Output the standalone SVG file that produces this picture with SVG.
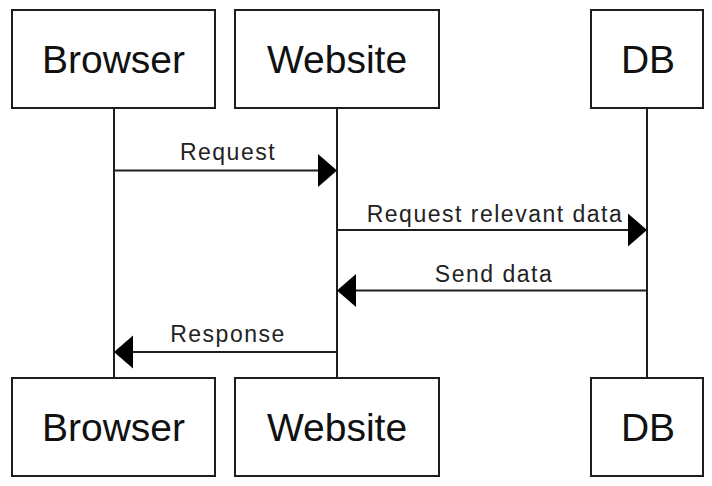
<svg xmlns="http://www.w3.org/2000/svg" width="712" height="486" viewBox="0 0 712 486">
<style>
.box{fill:#fff;stroke:#1e1e1e;stroke-width:2}
.big{font-family:"Liberation Sans",Arial,sans-serif;font-size:39px;fill:#111;text-anchor:middle}
.lbl{font-family:"Liberation Sans",Arial,sans-serif;font-size:23px;letter-spacing:1.5px;fill:#222;text-anchor:middle}
.life{stroke:#1e1e1e;stroke-width:2;fill:none}
.msg{stroke:#1e1e1e;stroke-width:2;fill:none}
.head{fill:#000;stroke:none}
</style>
<rect width="712" height="486" fill="#fff"/>
<g id="lifelines">
<line class="life" x1="114" y1="108" x2="114" y2="378"/>
<line class="life" x1="337" y1="108" x2="337" y2="378"/>
<line class="life" x1="647" y1="108" x2="647" y2="378"/>
</g>
<g id="browser-top"><rect class="box" x="12" y="10" width="203" height="98"/><text class="big" x="113.5" y="73">Browser</text></g>
<g id="website-top"><rect class="box" x="235" y="10" width="204" height="98"/><text class="big" x="337" y="73">Website</text></g>
<g id="db-top"><rect class="box" x="591" y="10" width="112" height="98"/><text class="big" x="648" y="73">DB</text></g>
<g id="browser-bottom"><rect class="box" x="12" y="378" width="203" height="98"/><text class="big" x="113.5" y="441">Browser</text></g>
<g id="website-bottom"><rect class="box" x="235" y="378" width="204" height="98"/><text class="big" x="337" y="441">Website</text></g>
<g id="db-bottom"><rect class="box" x="591" y="378" width="112" height="98"/><text class="big" x="648" y="441">DB</text></g>
<g id="connectors">
<line class="msg" x1="114" y1="170.5" x2="320" y2="170.5"/>
<polygon class="head" points="337,170.5 318,154 318,187"/>
<text class="lbl" x="228" y="160">Request</text>
<line class="msg" x1="337" y1="230" x2="630" y2="230"/>
<polygon class="head" points="647,230 628,213.5 628,246.5"/>
<text class="lbl" x="495" y="222">Request relevant data</text>
<line class="msg" x1="647" y1="290.5" x2="354" y2="290.5"/>
<polygon class="head" points="337,290.5 356,274 356,307"/>
<text class="lbl" x="494" y="282">Send data</text>
<line class="msg" x1="337" y1="352" x2="131" y2="352"/>
<polygon class="head" points="114,352 133,335.5 133,368.5"/>
<text class="lbl" x="228" y="342">Response</text>
</g>
</svg>
